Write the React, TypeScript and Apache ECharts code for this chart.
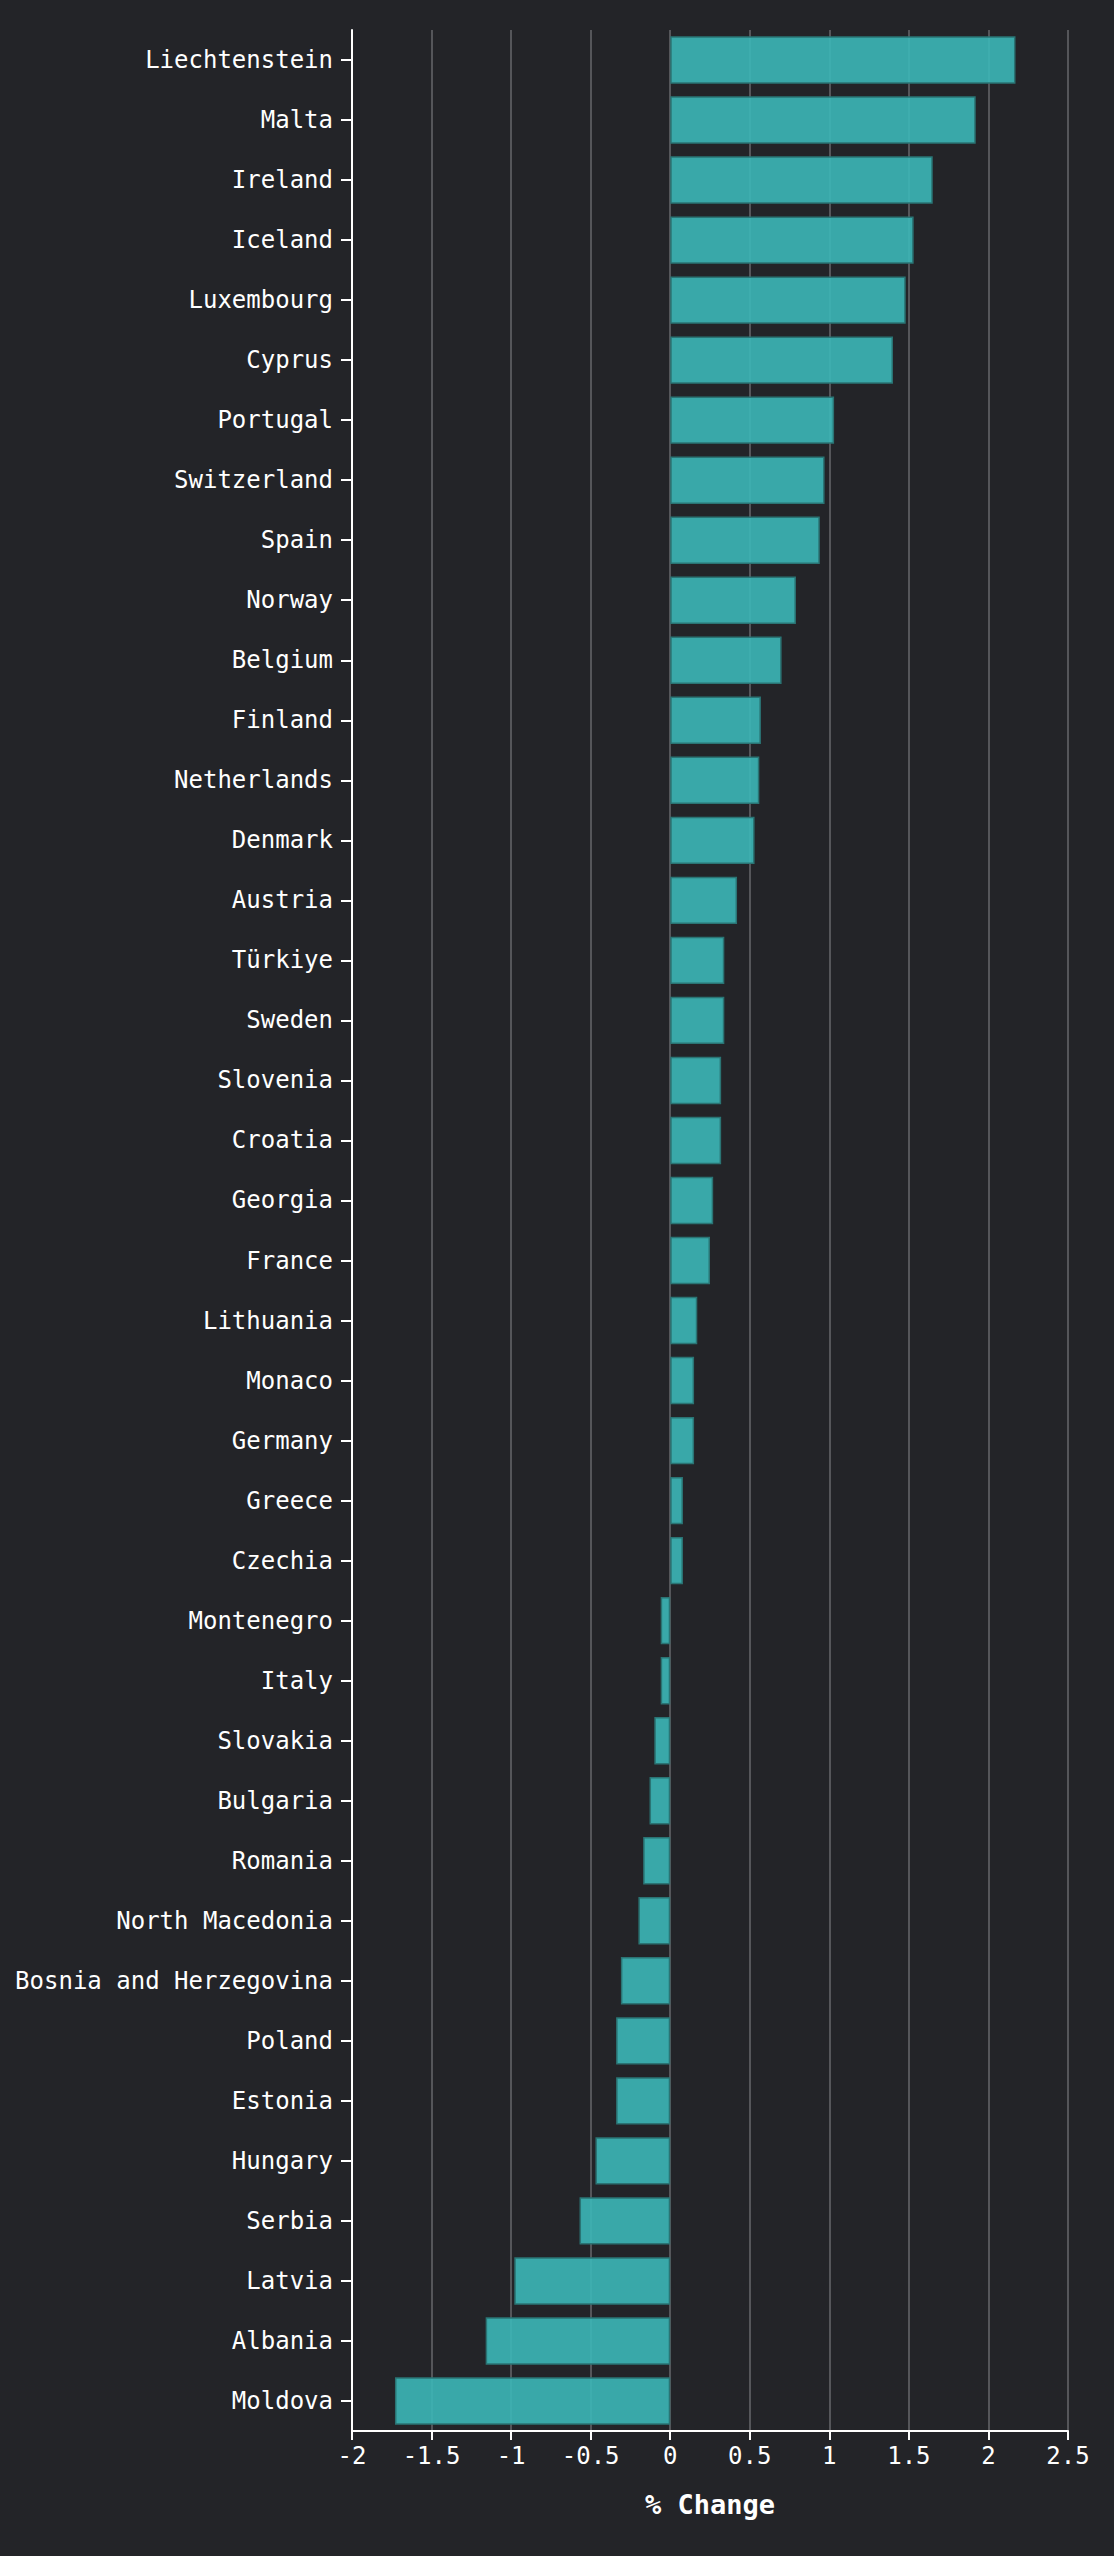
import React, { useEffect, useRef } from "react";
import * as echarts from "echarts";

const countries = [
  "Liechtenstein", "Malta", "Ireland", "Iceland", "Luxembourg", "Cyprus", "Portugal",
  "Switzerland", "Spain", "Norway", "Belgium", "Finland", "Netherlands", "Denmark",
  "Austria", "Türkiye", "Sweden", "Slovenia", "Croatia", "Georgia", "France",
  "Lithuania", "Monaco", "Germany", "Greece", "Czechia", "Montenegro", "Italy",
  "Slovakia", "Bulgaria", "Romania", "North Macedonia", "Bosnia and Herzegovina",
  "Poland", "Estonia", "Hungary", "Serbia", "Latvia", "Albania", "Moldova",
];

const changes = [
  2.17, 1.92, 1.65, 1.53, 1.48, 1.4, 1.03,
  0.97, 0.94, 0.79, 0.7, 0.57, 0.56, 0.53,
  0.42, 0.34, 0.34, 0.32, 0.32, 0.27, 0.25,
  0.17, 0.15, 0.15, 0.08, 0.08, -0.06, -0.06,
  -0.1, -0.13, -0.17, -0.2, -0.31,
  -0.34, -0.34, -0.47, -0.57, -0.98, -1.16, -1.73,
];

const xMin = -2;
const xMax = 2.5;
const xStep = 0.5;
const xName = "% Change";

const BG = "#232428";
const MONO = "'DejaVu Sans Mono', 'Liberation Mono', monospace";

export default function App() {
  const ref = useRef<HTMLDivElement>(null);

  useEffect(() => {
    document.body.style.margin = "0";
    document.body.style.background = BG;
    if (!ref.current) return;
    const chart = echarts.init(ref.current, undefined, { renderer: "svg" });
    chart.setOption({
      animation: false,
      backgroundColor: BG,
      grid: { left: 352, right: 46, top: 30, bottom: 125, containLabel: false },
      xAxis: {
        type: "value",
        min: xMin,
        max: xMax,
        interval: xStep,
        name: xName,
        nameLocation: "middle",
        nameGap: 60,
        nameTextStyle: {
          color: "#ffffff",
          fontFamily: MONO,
          fontWeight: "bold",
          fontSize: 27,
        },
        axisLine: { show: true, lineStyle: { color: "#ffffff", width: 2 } },
        axisTick: { show: true, length: 9, lineStyle: { color: "#ffffff", width: 2 } },
        axisLabel: {
          color: "#ffffff",
          fontFamily: MONO,
          fontSize: 24,
          margin: 13,
        },
        splitLine: { show: true, lineStyle: { color: "#55565a", width: 2 } },
      },
      yAxis: {
        type: "category",
        data: countries,
        inverse: true,
        axisLine: { show: true, onZero: false, lineStyle: { color: "#ffffff", width: 2 } },
        axisTick: { show: true, alignWithLabel: true, length: 11, lineStyle: { color: "#ffffff", width: 2 } },
        axisLabel: {
          color: "#ffffff",
          fontFamily: MONO,
          fontSize: 24,
          margin: 19,
        },
        splitLine: { show: false },
      },
      series: [
        {
          type: "bar",
          data: changes,
          barCategoryGap: "21%",
          itemStyle: {
            color: "rgba(60,183,183,0.9)",
            borderColor: "#2a7474",
            borderWidth: 1.5,
          },
        },
      ],
    });
    return () => chart.dispose();
  }, []);

  return <div ref={ref} style={{ width: 1114, height: 2556, background: BG }} />;
}
